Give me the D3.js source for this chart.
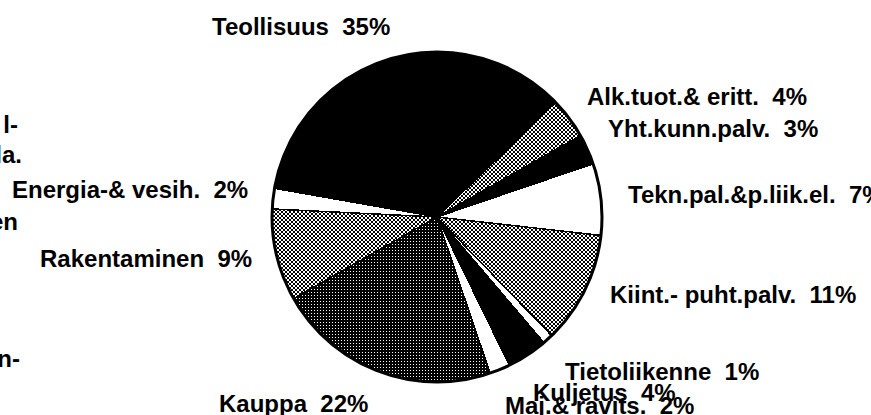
<!doctype html>
<html>
  <head>
    <title>Toimialat</title>
    <script src="https://cdn.jsdelivr.net/npm/d3@7"></script>
    <style>
      body { margin: 0; background: #fff; }
      text { font-family: "Liberation Sans", Arial, Helvetica, sans-serif; font-weight: bold; white-space: pre; }
    </style>
  </head>
  <body>
  <script>

// data, clockwise from Teollisuus
const categories = ["Teollisuus", "Alk.tuot.& eritt.", "Yht.kunn.palv.", "Tekn.pal.&p.liik.el.",
  "Kiint.- puht.palv.", "Tietoliikenne", "Kuljetus", "Maj.& ravits.", "Kauppa", "Rakentaminen", "Energia-& vesih."];
const shares = [35, 4, 3, 7, 11, 1, 4, 2, 22, 9, 2];
const fills = ["black", "light", "black", "white", "light", "white", "black", "white", "dark", "light", "white"];

// cut-off words on the left edge of the scan
const fragments = ["l-", "la.", "en", "n-"];

const w = 871;
const h = 415;
const cx = 437, cy = 217, r = 165;

// label placement (left x, baseline y)
const labelPos = [
  [212, 35], [587, 105], [608, 137], [628, 203], [610, 303],
  [565, 380], [533, 401], [505, 414], [219, 412], [40, 267], [12, 198]
];
const fragPos = [[18, 133], [22, 163], [18, 230], [20, 367]];

const svg = d3.select("body")
  .append("svg")
  .attr("width", w)
  .attr("height", h);

const defs = svg.append("defs");

// lighter screen: checker of white dots
const light = defs.append("pattern")
  .attr("id", "light")
  .attr("patternUnits", "userSpaceOnUse")
  .attr("width", 4).attr("height", 4);
light.append("rect").attr("width", 4).attr("height", 4).attr("fill", "black");
light.append("rect").attr("x", 0).attr("y", 0).attr("width", 2).attr("height", 2).attr("fill", "white");
light.append("rect").attr("x", 2).attr("y", 2).attr("width", 2).attr("height", 2).attr("fill", "white");

// darker screen: sparse white dots
const dark = defs.append("pattern")
  .attr("id", "dark")
  .attr("patternUnits", "userSpaceOnUse")
  .attr("width", 3).attr("height", 3);
dark.append("rect").attr("width", 3).attr("height", 3).attr("fill", "black");
dark.append("rect").attr("x", 0).attr("y", 0).attr("width", 1).attr("height", 1).attr("fill", "white");

const fillOf = f => f == "light" ? "url(#light)" : f == "dark" ? "url(#dark)" : f;

const pie = d3.pie()
  .sort(null)
  .startAngle(-80 * Math.PI / 180)
  .endAngle(280 * Math.PI / 180)
  .value(d => d);

const arc = d3.arc().innerRadius(0).outerRadius(r);

const g = svg.append("g")
  .attr("transform", `translate(${cx},${cy})`);

g.selectAll("path")
  .data(pie(shares))
  .enter()
  .append("path")
  .attr("d", arc)
  .attr("fill", (d, i) => fillOf(fills[i]))
  .attr("stroke", "black")
  .attr("stroke-width", 1.5)
  .attr("shape-rendering", "crispEdges");

g.append("circle")
  .attr("r", r)
  .attr("fill", "none")
  .attr("stroke", "black")
  .attr("stroke-width", 3);

svg.selectAll("text.lbl")
  .data(categories)
  .enter()
  .append("text")
  .attr("class", "lbl")
  .attr("x", (d, i) => labelPos[i][0])
  .attr("y", (d, i) => labelPos[i][1])
  .attr("font-size", 24)
  .attr("fill", "black")
  .text((d, i) => `${d}  ${shares[i]}%`);

svg.selectAll("text.frag")
  .data(fragments)
  .enter()
  .append("text")
  .attr("class", "frag")
  .attr("x", (d, i) => fragPos[i][0])
  .attr("y", (d, i) => fragPos[i][1])
  .attr("text-anchor", "end")
  .attr("font-size", 24)
  .attr("fill", "black")
  .text(d => d);

  </script>
</body>
</html>
